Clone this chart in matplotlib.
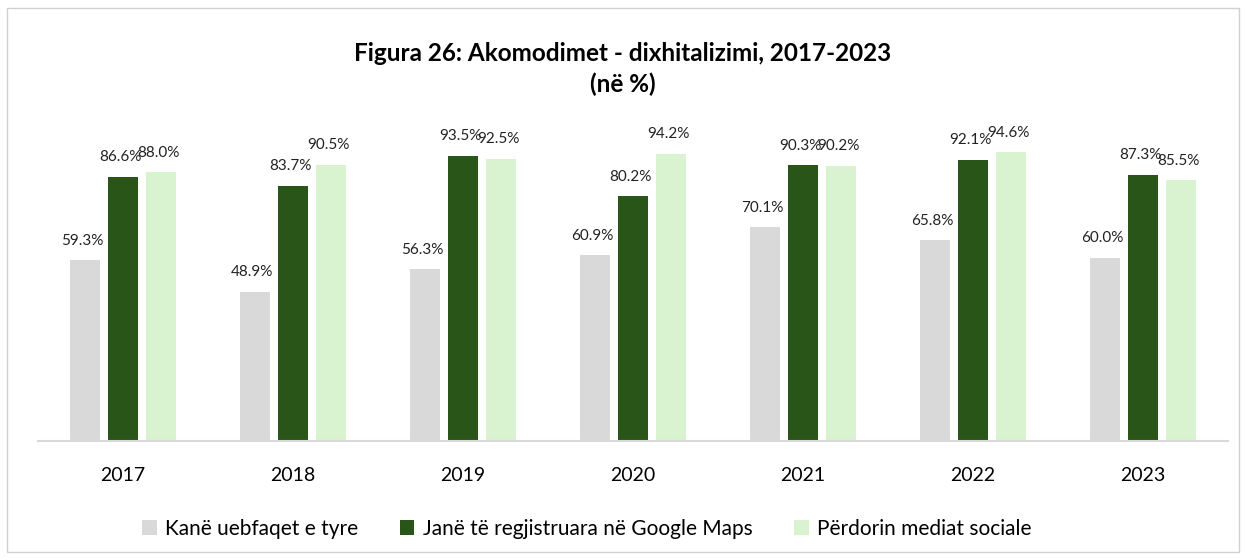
import numpy as np
import matplotlib.pyplot as plt
from matplotlib.patches import Rectangle

plt.rcParams['font.family'] = ['Lato', 'DejaVu Sans']

years = ['2017', '2018', '2019', '2020', '2021', '2022', '2023']
websites = [59.3, 48.9, 56.3, 60.9, 70.1, 65.8, 60.0]
google_maps = [86.6, 83.7, 93.5, 80.2, 90.3, 92.1, 87.3]
social_media = [88.0, 90.5, 92.5, 94.2, 90.2, 94.6, 85.5]

series_names = ['Kanë uebfaqet e tyre',
                'Janë të regjistruara në Google Maps',
                'Përdorin mediat sociale']
colors = ['#d9d9d9', '#2a5519', '#d9f2d0']

fig = plt.figure(figsize=(12.46, 5.6), dpi=100)
ax = fig.add_axes([0.0305, 0.2125, 0.955, 0.545])

x = np.arange(len(years))
width = 0.176
offsets = [-0.224, 0.0, 0.224]

for vals, off, col, name in zip([websites, google_maps, social_media], offsets, colors, series_names):
    bars = ax.bar(x + off, vals, width, color=col, label=name)
    for b, v in zip(bars, vals):
        ax.annotate(f"{v:.1f}%", (b.get_x() + b.get_width() / 2, b.get_height()),
                    xytext=(-2, 9), textcoords='offset points',
                    ha='center', va='bottom', fontsize=11, color='#222222')

ax.set_xlim(-0.5, len(years) - 0.5)
ax.set_ylim(0, 100)
ax.set_xticks(x)
ax.set_xticklabels(years, fontsize=14)
ax.tick_params(axis='x', length=0, pad=19)
ax.set_yticks([])
for s in ['top', 'right', 'left']:
    ax.spines[s].set_visible(False)
ax.spines['bottom'].set_color('#d9d9d9')
ax.spines['bottom'].set_linewidth(1.5)

fig.text(0.5, 0.905, "Figura 26: Akomodimet - dixhitalizimi, 2017-2023",
         ha='center', va='center', fontsize=17.5, fontweight='bold')
fig.text(0.5, 0.85, "(në %)", ha='center', va='center', fontsize=17.5, fontweight='bold')

fig.legend(loc='center', bbox_to_anchor=(0.471, 0.056), ncol=3, frameon=False,
           fontsize=15, handlelength=0.7, handleheight=0.7, columnspacing=2.0,
           handletextpad=0.4)

fig.patches.append(Rectangle((0.006, 0.014), 0.988, 0.972, transform=fig.transFigure,
                             fill=False, edgecolor='#d0d0d0', linewidth=1))

fig.savefig('out.png', dpi=100)
